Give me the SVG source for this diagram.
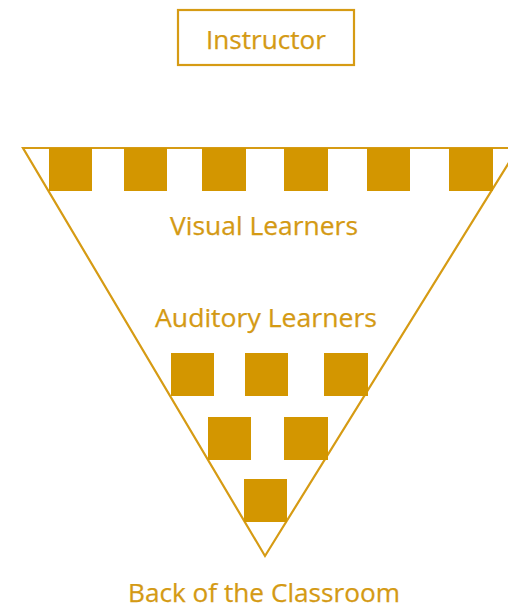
<svg xmlns="http://www.w3.org/2000/svg" width="508" height="608" viewBox="0 0 508 608">
  <style>
    .seat { fill: #D39600; }
    .frame { fill: none; stroke: #D69B14; stroke-width: 2.2; stroke-linejoin: miter; }
    .label { fill: #D49A14; font-family: "Open Sans", "Noto Sans", "DejaVu Sans", sans-serif; font-size: 25.5px; font-weight: 500; text-anchor: middle; stroke: #D49A14; stroke-width: 0.25; }
  </style>
  <rect width="508" height="608" fill="#FFFFFF"/>

  <!-- instructor at the front -->
  <g id="instructor">
    <rect class="frame" x="178" y="10" width="176" height="55"/>
    <text class="label" x="266" y="49" textLength="120" lengthAdjust="spacingAndGlyphs">Instructor</text>
  </g>

  <!-- classroom wedge -->
  <g id="classroom">
    <polygon class="frame" points="23,148 518,148 265,556"/>
  </g>

  <!-- front row: visual learners -->
  <g id="visual-learners">
    <rect class="seat" x="49" y="148" width="43" height="43"/>
    <rect class="seat" x="124" y="148" width="43" height="43"/>
    <rect class="seat" x="202" y="148" width="44" height="43"/>
    <rect class="seat" x="284" y="148" width="44" height="43"/>
    <rect class="seat" x="367" y="148" width="43" height="43"/>
    <rect class="seat" x="449" y="148" width="44" height="43"/>
    <text class="label" x="264" y="235" textLength="188" lengthAdjust="spacingAndGlyphs">Visual Learners</text>
  </g>

  <!-- rear rows: auditory learners -->
  <g id="auditory-learners">
    <text class="label" x="266" y="327" textLength="222" lengthAdjust="spacingAndGlyphs">Auditory Learners</text>
    <rect class="seat" x="171" y="353" width="43" height="43"/>
    <rect class="seat" x="245" y="353" width="43" height="43"/>
    <rect class="seat" x="324" y="353" width="44" height="43"/>
    <rect class="seat" x="208" y="417" width="43" height="43"/>
    <rect class="seat" x="284" y="417" width="44" height="43"/>
    <rect class="seat" x="244" y="479" width="43" height="43"/>
  </g>

  <g id="back">
    <text class="label" x="264" y="602" textLength="272" lengthAdjust="spacingAndGlyphs">Back of the Classroom</text>
  </g>
</svg>
